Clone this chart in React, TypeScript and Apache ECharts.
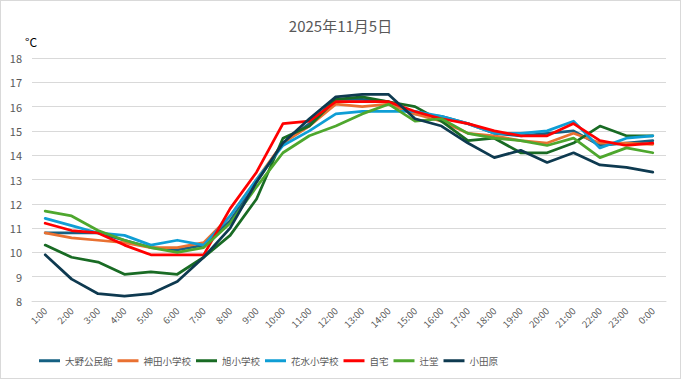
import React, { useEffect, useRef } from "react";
import * as echarts from "echarts";

const hours = ["1:00","2:00","3:00","4:00","5:00","6:00","7:00","8:00","9:00","10:00","11:00","12:00","13:00","14:00","15:00","16:00","17:00","18:00","19:00","20:00","21:00","22:00","23:00","0:00"];

const ohno = [10.8,10.8,10.8,10.5,10.2,10.1,10.3,11.3,12.9,14.5,15.3,16.3,16.3,16.2,15.7,15.6,15.3,14.9,14.8,14.9,15.0,14.4,14.5,14.6];
const kanda = [10.8,10.6,10.5,10.4,10.2,10.2,10.4,11.5,13.0,14.5,15.2,16.1,16.0,16.1,15.7,15.4,14.9,14.8,14.6,14.5,14.9,14.5,14.5,14.45];
const asahi = [10.3,9.8,9.6,9.1,9.2,9.1,9.8,10.7,12.2,14.7,15.2,16.3,16.4,16.2,16.0,15.4,14.6,14.7,14.1,14.1,14.5,15.2,14.8,14.8];
const hanamizu = [11.4,11.1,10.8,10.7,10.3,10.5,10.3,11.5,13.0,14.4,15.0,15.7,15.8,15.8,15.8,15.6,15.3,14.9,14.9,15.0,15.4,14.3,14.7,14.8];
const home = [11.2,10.9,10.8,10.3,9.9,9.9,9.9,11.8,13.3,15.3,15.4,16.2,16.2,16.2,15.8,15.5,15.3,15.0,14.8,14.8,15.3,14.6,14.4,14.5];
const tsujido = [11.7,11.5,10.9,10.5,10.2,10.0,10.2,11.2,12.7,14.1,14.8,15.2,15.7,16.1,15.4,15.5,14.9,14.7,14.6,14.4,14.7,13.9,14.3,14.1];
const odawara = [9.9,8.9,8.3,8.2,8.3,8.8,9.8,11.0,12.9,14.5,15.5,16.4,16.5,16.5,15.5,15.2,14.5,13.9,14.2,13.7,14.1,13.6,13.5,13.3];

const seriesDefs = [
  { name: "大野公民館", data: ohno, color: "#156082" },
  { name: "神田小学校", data: kanda, color: "#E97132" },
  { name: "旭小学校", data: asahi, color: "#196B24" },
  { name: "花水小学校", data: hanamizu, color: "#0F9ED5" },
  { name: "自宅", data: home, color: "#FF0000" },
  { name: "辻堂", data: tsujido, color: "#4EA72E" },
  { name: "小田原", data: odawara, color: "#0E3A50" },
];

const FONT = "'Noto Sans CJK JP', 'Noto Sans', sans-serif";

export default function App() {
  const ref = useRef<HTMLDivElement>(null);
  useEffect(() => {
    document.body.style.margin = "0";
    const chart = echarts.init(ref.current!, null, { renderer: "svg" });
    chart.setOption({
      animation: false,
      backgroundColor: "#ffffff",
      title: {
        text: "2025年11月5日",
        left: "center",
        top: 12,
        textStyle: { fontFamily: FONT, fontSize: 15, fontWeight: "normal", color: "#595959" },
      },
      graphic: [
        {
          type: "text",
          left: 24,
          top: 34,
          style: { text: "°C", fontFamily: FONT, fontSize: 12, fill: "#000000" },
        },
      ],
      legend: {
        left: 33,
        top: 350,
        icon: "rect",
        itemWidth: 21,
        itemHeight: 3,
        itemGap: 5,
        textStyle: { fontFamily: FONT, fontSize: 9.5, color: "#595959" },
        data: seriesDefs.map((s) => s.name),
      },
      grid: { left: 31, right: 14, top: 57, bottom: 77, containLabel: false },
      xAxis: {
        type: "category",
        data: hours,
        boundaryGap: true,
        axisLine: { show: true, lineStyle: { color: "#d9d9d9" } },
        axisTick: { show: false },
        axisLabel: { rotate: 45, interval: 0, fontFamily: FONT, fontSize: 9.5, color: "#595959", margin: 8 },
      },
      yAxis: {
        type: "value",
        min: 8,
        max: 18,
        interval: 1,
        axisLine: { show: false },
        axisTick: { show: false },
        splitLine: { lineStyle: { color: "#d9d9d9", width: 1 } },
        axisLabel: { fontFamily: FONT, fontSize: 11, color: "#595959", margin: 10 },
      },
      series: seriesDefs.map((s) => ({
        name: s.name,
        type: "line",
        data: s.data,
        showSymbol: false,
        symbol: "none",
        color: s.color,
        lineStyle: { width: 2.75, color: s.color, cap: "round", join: "round" },
      })),
    });
    return () => chart.dispose();
  }, []);
  return (
    <div
      ref={ref}
      style={{
        position: "fixed",
        left: 0,
        top: 0,
        width: 681,
        height: 379,
        border: "1px solid #d9d9d9",
        boxSizing: "border-box",
      }}
    />
  );
}
